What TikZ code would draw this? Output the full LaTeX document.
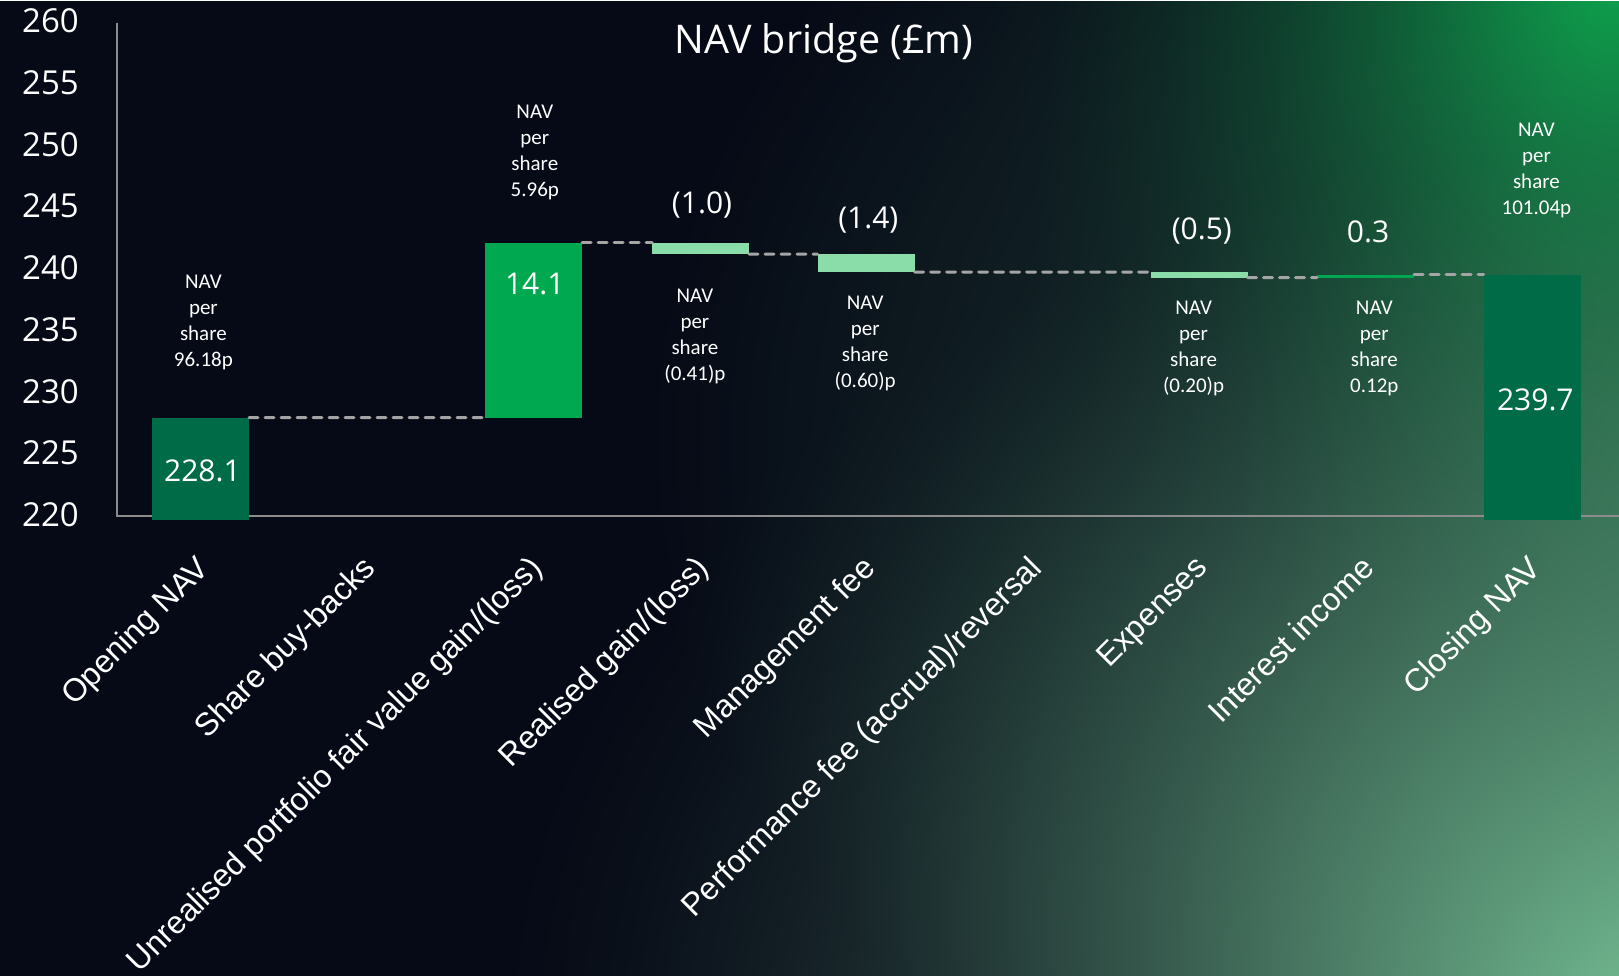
\documentclass[tikz,border=0pt]{standalone}
\usepackage{fontspec}
\setmainfont{Open Sans}
\newfontfamily\calfont{Carlito}
\newfontfamily\labfont{Liberation Sans}

\pgfdeclarefunctionalshading{bgshade}{\pgfpointorigin}{\pgfpoint{1613bp}{971.4bp}}{}{
exch 1613 div exch 971.4 div
2 copy 0.08 add 0.95 div dup mul exch 1.05 sub 0.75 div dup mul add sqrt 1 exch sub dup abs add 2 div dup sqrt mul
3 1 roll
2 copy 1.05 sub 0.8 div dup mul exch 1.0 sub 0.42 div dup mul add sqrt 1 exch sub dup abs add 2 div dup mul
3 1 roll
0.55 sub 0.85 div dup mul exch 1.05 sub 0.65 div dup mul add sqrt 1 exch sub dup abs add 2 div
2 index 0.431 mul 2 index -0.024 mul add 1 index 0.109 mul add 0.024 add
4 1 roll
2 index 0.683 mul 2 index 0.531 mul add 1 index 0.228 mul add 0.039 add
4 1 roll
2 index 0.483 mul 2 index 0.161 mul add 1 index 0.141 mul add 0.086 add
4 1 roll pop pop pop
}

\definecolor{bardark}{HTML}{006B47}
\definecolor{barbright}{HTML}{00A84F}
\definecolor{barlight}{HTML}{8ADDA9}
\definecolor{barmid}{HTML}{00A650}
\definecolor{dashgray}{HTML}{A5A5A5}
\definecolor{axisgray}{HTML}{8C8C8C}

\tikzset{
  barbox/.style={draw=none, inner sep=0pt, outer sep=0pt, minimum width=97pt, anchor=north west},
  conn/.style={dashgray, line width=3pt, dash pattern=on 9pt off 7pt, line cap=round},
  axisline/.style={axisgray, line width=1.8pt},
  ytick/.style={text=white, anchor=east, inner sep=0pt, font=\fontsize{33}{38}\selectfont},
  vallab/.style={text=white, inner sep=0pt, font=\fontsize{30}{36}\selectfont},
  navlab/.style={text=white, inner sep=0pt, align=center, font=\calfont\fontsize{21}{26}\selectfont},
  catlab/.style={text=white, inner sep=0pt, anchor=north east, rotate=45, font=\labfont\fontsize{32}{38}\selectfont},
  titlelab/.style={text=white, inner sep=0pt, font=\fontsize{39.5}{46}\selectfont}
}

\begin{document}
\begin{tikzpicture}[x=1pt, y=-1pt]
\useasboundingbox (0,0) rectangle (1619,975);
% background
\node[inner sep=0pt, outer sep=0pt, anchor=north west] (bg) at (0,0) {\pgfuseshading{bgshade}};

% axes
\coordinate (ytop) at (116.7,22.7);
\coordinate (orig) at (116.7,516.3);
\coordinate (xend) at (1619,516.3);
\draw[axisline] (ytop) -- (orig) -- (xend);

% y tick labels
\node[ytick] (y260) at (79,20.6) {260};
\node[ytick] (y255) at (79,82.4) {255};
\node[ytick] (y250) at (79,144.2) {250};
\node[ytick] (y245) at (79,206.0) {245};
\node[ytick] (y240) at (79,267.8) {240};
\node[ytick] (y235) at (79,329.6) {235};
\node[ytick] (y230) at (79,391.4) {230};
\node[ytick] (y225) at (79,453.2) {225};
\node[ytick] (y220) at (79,515.0) {220};

% title
\node[titlelab] (title) at (824,43) {NAV bridge (£m)};

% bars
\node[barbox, fill=bardark, minimum height=102pt] (b1) at (152,417.5) {};
\node[barbox, fill=barbright, minimum height=175pt] (b2) at (485,242.6) {};
\node[barbox, fill=barlight, minimum height=11.6pt] (b3) at (652,242.6) {};
\node[barbox, fill=barlight, minimum height=17.8pt] (b4) at (817.5,254.2) {};
\node[barbox, fill=barlight, minimum height=5.7pt] (b6) at (1150.5,272) {};
\node[barbox, fill=barmid, minimum height=2.9pt] (b7) at (1317,274.8) {};
\node[barbox, fill=bardark, minimum height=245.5pt] (b9) at (1483.5,274.8) {};

% connectors
\draw[conn] (b1.north east) -- (b2.south west);
\draw[conn] (b2.north east) -- (b3.north west);
\draw[conn] (b3.south east) -- (b4.north west);
\draw[conn] (b4.south east) -- (b6.north west);
\draw[conn] (b6.south east) -- (b7.south west);
\draw[conn] (b7.north east) -- (b9.north west);

% value labels
\node[vallab] (v1) at (202.4,470.8) {228.1};
\node[vallab] (v2) at (534.8,284) {14.1};
\node[vallab] (v3) at (702,205) {(1.0)};
\node[vallab] (v4) at (868.3,220.5) {(1.4)};
\node[vallab] (v6) at (1201.8,230.5) {(0.5)};
\node[vallab] (v7) at (1368,232) {0.3};
\node[vallab] (v9) at (1535.3,399.6) {239.7};

% NAV per share labels
\node[navlab] (n1) at (203.4,322.6) {NAV\\per\\share\\96.18p};
\node[navlab] (n2) at (534.8,152.7) {NAV\\per\\share\\5.96p};
\node[navlab] (n3) at (694.9,336.5) {NAV\\per\\share\\(0.41)p};
\node[navlab] (n4) at (865.2,343.2) {NAV\\per\\share\\(0.60)p};
\node[navlab] (n6) at (1193.6,348.4) {NAV\\per\\share\\(0.20)p};
\node[navlab] (n7) at (1374.3,348.4) {NAV\\per\\share\\0.12p};
\node[navlab] (n9) at (1536.4,170.8) {NAV\\per\\share\\101.04p};

% category labels
\node[catlab] (c1) at (194.3,553.3) {Opening NAV};
\node[catlab] (c2) at (360.8,553.3) {Share buy-backs};
\node[catlab] (c3) at (527.3,553.3) {Unrealised portfolio fair value gain/(loss)};
\node[catlab] (c4) at (694,553.3) {Realised gain/(loss)};
\node[catlab] (c5) at (860.3,553.3) {Management fee};
\node[catlab] (c6) at (1026.8,553.3) {Performance fee (accrual)/reversal};
\node[catlab] (c7) at (1193.3,553.3) {Expenses};
\node[catlab] (c8) at (1359.5,553.3) {Interest income};
\node[catlab] (c9) at (1526.3,553.3) {Closing NAV};
\end{tikzpicture}
\end{document}
